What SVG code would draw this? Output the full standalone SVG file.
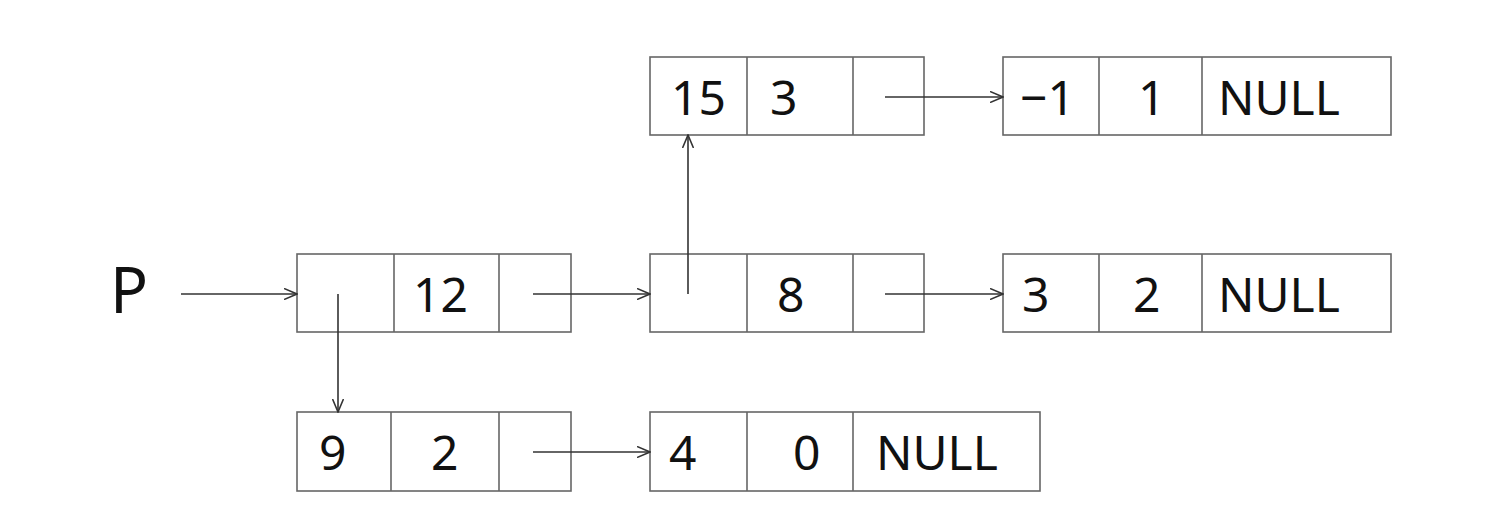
<svg xmlns="http://www.w3.org/2000/svg" width="1506" height="523" viewBox="0 0 1506 523">
  <style>
    .cell { fill: #ffffff; stroke: #666666; stroke-width: 1.6; }
    .div { stroke: #666666; stroke-width: 1.6; }
    .t { font-family: "Noto Sans", "Open Sans", sans-serif; font-size: 48px; fill: #111111; }
    .big { font-size: 63px; }
    .link { stroke: #333333; stroke-width: 1.6; fill: none; marker-end: url(#arrow); }
  </style>
  <defs>
    <marker id="arrow" viewBox="0 0 14 12" refX="13" refY="6" markerWidth="14" markerHeight="12" markerUnits="userSpaceOnUse" orient="auto">
      <path d="M0,0.5 L13,6 L0,11.5" fill="none" stroke="#333333" stroke-width="1.6"/>
    </marker>
  </defs>
  <rect width="1506" height="523" fill="#ffffff"/>

  <text class="t big" x="110" y="313">P</text>

  <!-- head node: (link, 12, next) -->
  <g id="node-12">
    <rect class="cell" x="297" y="254" width="274" height="78"/>
    <line class="div" x1="394" y1="254" x2="394" y2="332"/>
    <line class="div" x1="499" y1="254" x2="499" y2="332"/>
    <text class="t" x="413" y="312">12</text>
  </g>

  <g id="node-8">
    <rect class="cell" x="650" y="254" width="274" height="78"/>
    <line class="div" x1="747" y1="254" x2="747" y2="332"/>
    <line class="div" x1="853" y1="254" x2="853" y2="332"/>
    <text class="t" x="777" y="312">8</text>
  </g>

  <g id="node-3-2">
    <rect class="cell" x="1003" y="254" width="388" height="78"/>
    <line class="div" x1="1099" y1="254" x2="1099" y2="332"/>
    <line class="div" x1="1202" y1="254" x2="1202" y2="332"/>
    <text class="t" x="1022" y="312">3</text>
    <text class="t" x="1133" y="312">2</text>
    <text class="t" x="1218" y="312">NULL</text>
  </g>

  <g id="node-15-3">
    <rect class="cell" x="650" y="57" width="274" height="78"/>
    <line class="div" x1="747" y1="57" x2="747" y2="135"/>
    <line class="div" x1="853" y1="57" x2="853" y2="135"/>
    <text class="t" x="671" y="115">15</text>
    <text class="t" x="770" y="115">3</text>
  </g>

  <g id="node-m1-1">
    <rect class="cell" x="1003" y="57" width="388" height="78"/>
    <line class="div" x1="1099" y1="57" x2="1099" y2="135"/>
    <line class="div" x1="1202" y1="57" x2="1202" y2="135"/>
    <text class="t" x="1020" y="115">−1</text>
    <text class="t" x="1138" y="115">1</text>
    <text class="t" x="1218" y="115">NULL</text>
  </g>

  <g id="node-9-2">
    <rect class="cell" x="297" y="412" width="274" height="79"/>
    <line class="div" x1="391" y1="412" x2="391" y2="491"/>
    <line class="div" x1="499" y1="412" x2="499" y2="491"/>
    <text class="t" x="319" y="470">9</text>
    <text class="t" x="431" y="470">2</text>
  </g>

  <g id="node-4-0">
    <rect class="cell" x="650" y="412" width="390" height="79"/>
    <line class="div" x1="747" y1="412" x2="747" y2="491"/>
    <line class="div" x1="853" y1="412" x2="853" y2="491"/>
    <text class="t" x="669" y="470">4</text>
    <text class="t" x="793" y="470">0</text>
    <text class="t" x="876" y="470">NULL</text>
  </g>

  <g id="connectors">
    <line class="link" x1="181" y1="294" x2="297" y2="294"/>
    <line class="link" x1="533" y1="294" x2="650" y2="294"/>
    <line class="link" x1="885" y1="294" x2="1003" y2="294"/>
    <line class="link" x1="885" y1="97" x2="1003" y2="97"/>
    <line class="link" x1="533" y1="452" x2="650" y2="452"/>
    <line class="link" x1="338" y1="294" x2="338" y2="412"/>
    <line class="link" x1="688" y1="294" x2="688" y2="135"/>
  </g>
</svg>
